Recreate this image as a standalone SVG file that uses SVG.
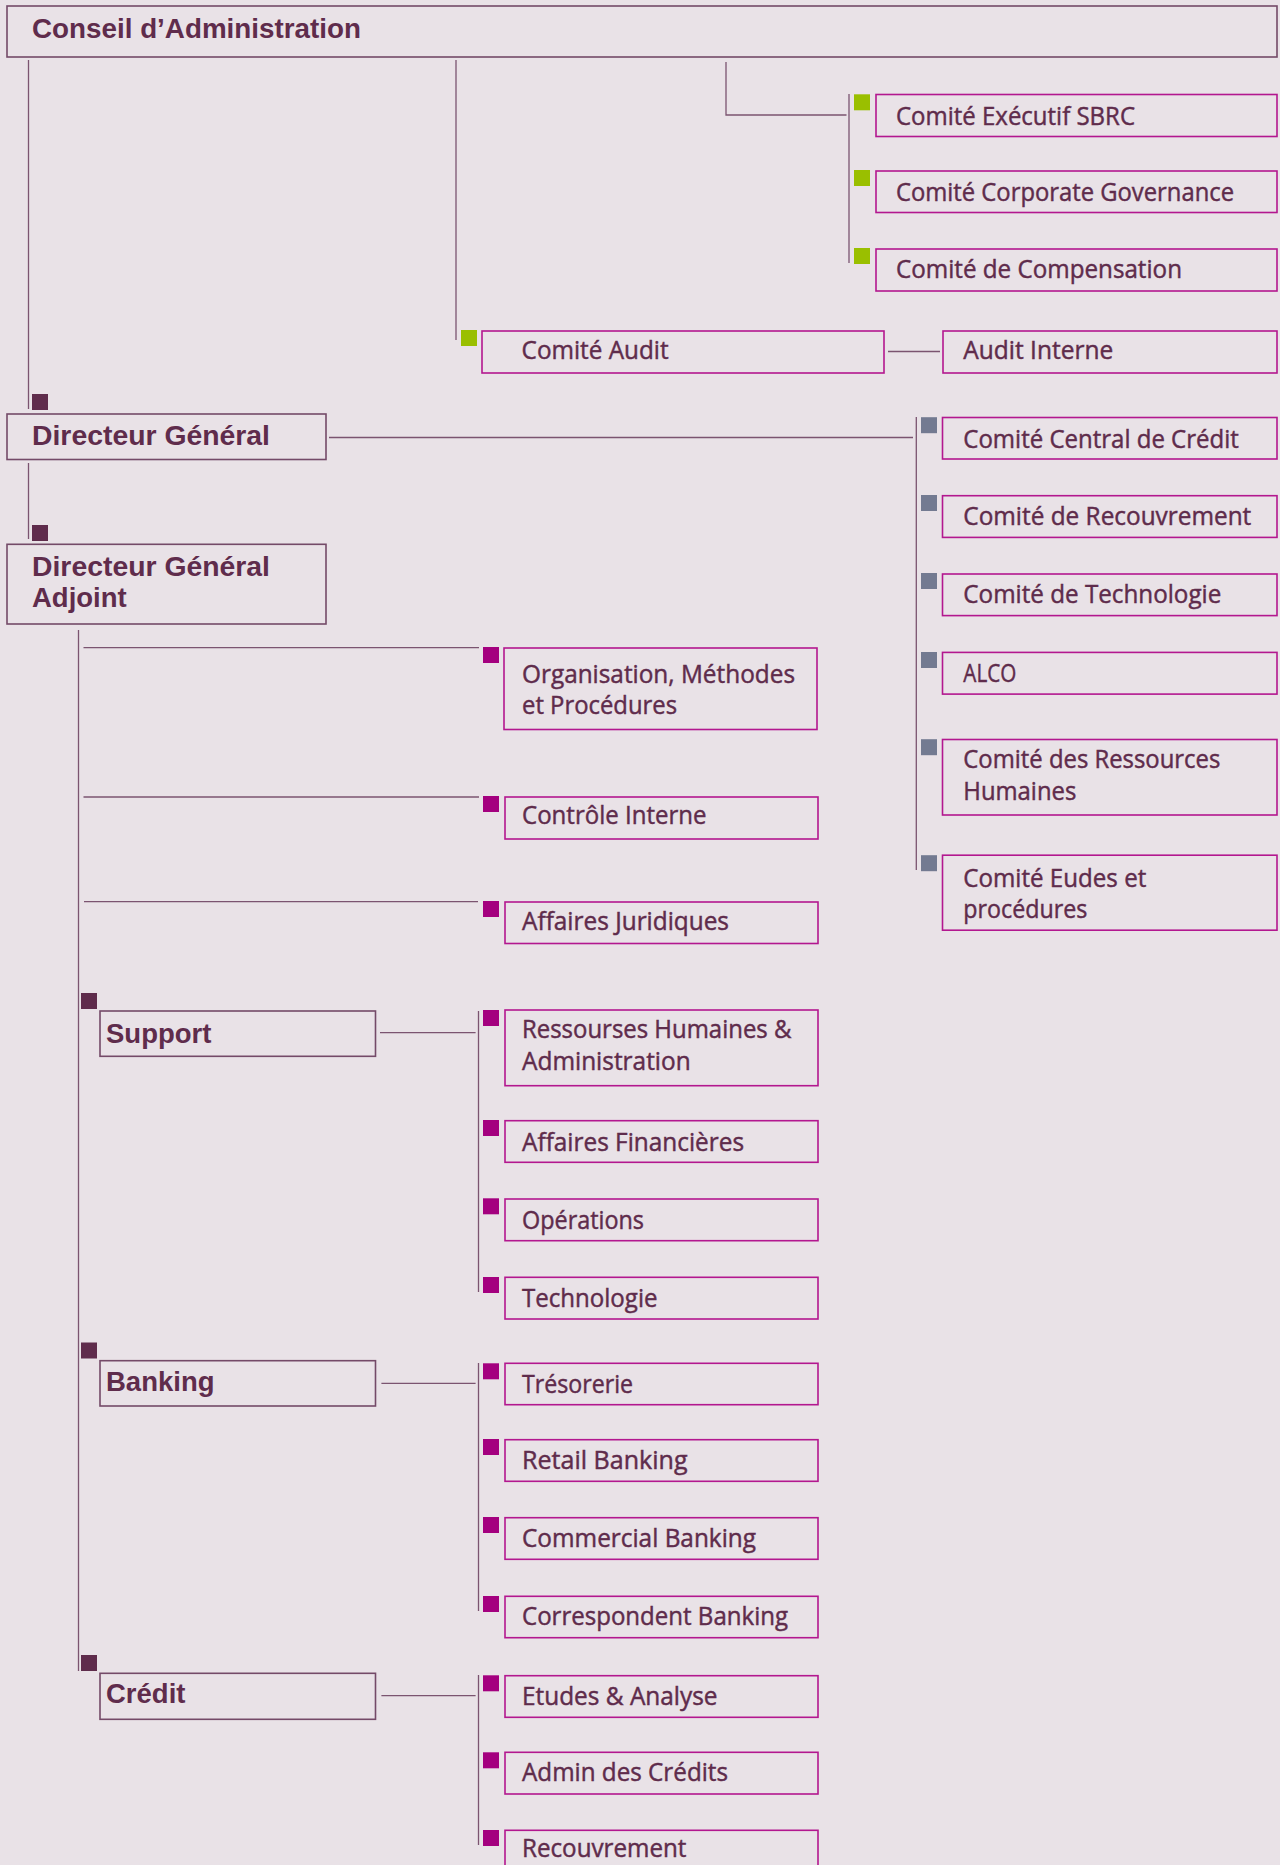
<svg xmlns="http://www.w3.org/2000/svg" width="1280" height="1865" viewBox="0 0 1280 1865">
<style>
.bg{fill:#e9e2e7}
.bm{fill:none;stroke:#744a68;stroke-width:1.6}
.bx{fill:none;stroke:#b3178f;stroke-width:1.6}
.ln{fill:none;stroke:#7b5470;stroke-width:1.3}
.t{font-family:"Open Sans","Noto Sans","Liberation Sans",sans-serif;font-size:25px;fill:#5f2c4c;stroke:#5f2c4c;stroke-width:0.45}
.tb{font-family:"Liberation Sans",Arial,sans-serif;font-weight:bold;font-size:27.5px;fill:#5f2c4c}
.sd{fill:#5f2c4c}
.sg{fill:#9abf00}
.sy{fill:#737a91}
.sm{fill:#a4007f}
</style>
<rect class="bg" x="0" y="0" width="1280" height="1865"/>

<g id="connectors">
<line class="ln" x1="28.5" y1="60" x2="28.5" y2="409"/>
<line class="ln" x1="456" y1="60" x2="456" y2="340"/>
<polyline class="ln" points="726,62 726,115 846.5,115"/>
<line class="ln" x1="849" y1="94" x2="849" y2="263"/>
<line class="ln" x1="888" y1="351.5" x2="940" y2="351.5"/>
<line class="ln" x1="329" y1="437.5" x2="913" y2="437.5"/>
<line class="ln" x1="916.3" y1="417" x2="916.3" y2="870"/>
<line class="ln" x1="28.5" y1="463" x2="28.5" y2="539"/>
<line class="ln" x1="78.5" y1="630" x2="78.5" y2="1671"/>
<line class="ln" x1="83.5" y1="647.7" x2="479" y2="647.7"/>
<line class="ln" x1="83.5" y1="797" x2="479" y2="797"/>
<line class="ln" x1="84" y1="901.7" x2="478" y2="901.7"/>
<line class="ln" x1="380" y1="1032.7" x2="475.6" y2="1032.7"/>
<line class="ln" x1="478.5" y1="1011" x2="478.5" y2="1292"/>
<line class="ln" x1="381.4" y1="1383.3" x2="475.6" y2="1383.3"/>
<line class="ln" x1="478.5" y1="1363" x2="478.5" y2="1611"/>
<line class="ln" x1="381.4" y1="1695.7" x2="475.6" y2="1695.7"/>
<line class="ln" x1="478.5" y1="1675" x2="478.5" y2="1845"/>
</g>

<g id="conseil">
<rect class="bm" x="7" y="6" width="1270" height="51"/>
<text class="tb" x="32" y="38" textLength="329" lengthAdjust="spacingAndGlyphs">Conseil d’Administration</text>
</g>

<g id="comite-executif">
<rect class="sg" x="854" y="94.3" width="16" height="16"/>
<rect class="bx" x="876" y="94.5" width="401" height="42"/>
<text class="t" x="896" y="124.5" textLength="239" lengthAdjust="spacingAndGlyphs">Comité Exécutif SBRC</text>
</g>
<g id="comite-corporate">
<rect class="sg" x="854" y="170" width="16" height="16"/>
<rect class="bx" x="876" y="171" width="401" height="41.5"/>
<text class="t" x="896" y="200.5" textLength="338" lengthAdjust="spacingAndGlyphs">Comité Corporate Governance</text>
</g>
<g id="comite-compensation">
<rect class="sg" x="854" y="248" width="16" height="16"/>
<rect class="bx" x="876" y="249" width="401" height="42"/>
<text class="t" x="896" y="278" textLength="286" lengthAdjust="spacingAndGlyphs">Comité de Compensation</text>
</g>

<g id="comite-audit">
<rect class="sg" x="461" y="330" width="16" height="16"/>
<rect class="bx" x="482" y="331" width="402" height="42"/>
<text class="t" x="521.6" y="359" textLength="147" lengthAdjust="spacingAndGlyphs">Comité Audit</text>
</g>
<g id="audit-interne">
<rect class="bx" x="943" y="331" width="334" height="42"/>
<text class="t" x="963.3" y="359" textLength="150" lengthAdjust="spacingAndGlyphs">Audit Interne</text>
</g>

<g id="directeur-general">
<rect class="sd" x="32" y="394" width="16" height="16"/>
<rect class="bm" x="7" y="414" width="319" height="45.5"/>
<text class="tb" x="32" y="445" textLength="238" lengthAdjust="spacingAndGlyphs">Directeur Général</text>
</g>
<g id="directeur-general-adjoint">
<rect class="sd" x="32" y="525" width="16" height="16"/>
<rect class="bm" x="7" y="544.3" width="319" height="79.7"/>
<text class="tb" x="32" y="575.5" textLength="238" lengthAdjust="spacingAndGlyphs">Directeur Général</text>
<text class="tb" x="32" y="607">Adjoint</text>
</g>

<g id="comite-central-credit">
<rect class="sy" x="921" y="417.2" width="16" height="16"/>
<rect class="bx" x="942.5" y="417.5" width="334.5" height="41.5"/>
<text class="t" x="963.3" y="447.5" textLength="275.5" lengthAdjust="spacingAndGlyphs">Comité Central de Crédit</text>
</g>
<g id="comite-recouvrement">
<rect class="sy" x="921" y="495" width="16" height="16"/>
<rect class="bx" x="942.5" y="495.7" width="334.5" height="41.7"/>
<text class="t" x="963.3" y="524.5" textLength="288" lengthAdjust="spacingAndGlyphs">Comité de Recouvrement</text>
</g>
<g id="comite-technologie">
<rect class="sy" x="921" y="573" width="16" height="16"/>
<rect class="bx" x="942.5" y="574" width="334.5" height="41.6"/>
<text class="t" x="963.3" y="602.5" textLength="258" lengthAdjust="spacingAndGlyphs">Comité de Technologie</text>
</g>
<g id="alco">
<rect class="sy" x="921" y="652" width="16" height="16"/>
<rect class="bx" x="942.5" y="652.4" width="334.5" height="41.7"/>
<text class="t" x="963.3" y="681.5" textLength="53" lengthAdjust="spacingAndGlyphs">ALCO</text>
</g>
<g id="comite-rh">
<rect class="sy" x="921" y="739.2" width="16" height="16"/>
<rect class="bx" x="942.5" y="739.5" width="334.5" height="75.5"/>
<text class="t" x="963.3" y="768" textLength="257" lengthAdjust="spacingAndGlyphs">Comité des Ressources</text>
<text class="t" x="963.3" y="799.5" textLength="113" lengthAdjust="spacingAndGlyphs">Humaines</text>
</g>
<g id="comite-eudes">
<rect class="sy" x="921" y="855.2" width="16" height="16"/>
<rect class="bx" x="942.5" y="855.2" width="334.5" height="75"/>
<text class="t" x="963.3" y="886.5" textLength="183" lengthAdjust="spacingAndGlyphs">Comité Eudes et</text>
<text class="t" x="963.3" y="918" textLength="124" lengthAdjust="spacingAndGlyphs">procédures</text>
</g>

<g id="organisation">
<rect class="sm" x="483" y="647" width="16" height="16"/>
<rect class="bx" x="504" y="648" width="313" height="81.5"/>
<text class="t" x="522" y="682.5" textLength="273" lengthAdjust="spacingAndGlyphs">Organisation, Méthodes</text>
<text class="t" x="522" y="714" textLength="155" lengthAdjust="spacingAndGlyphs">et Procédures</text>
</g>
<g id="controle-interne">
<rect class="sm" x="483" y="796" width="16" height="16"/>
<rect class="bx" x="505" y="797" width="313" height="42"/>
<text class="t" x="522" y="824" textLength="184.5" lengthAdjust="spacingAndGlyphs">Contrôle Interne</text>
</g>
<g id="affaires-juridiques">
<rect class="sm" x="483" y="901" width="16" height="16"/>
<rect class="bx" x="505" y="902" width="313" height="41.5"/>
<text class="t" x="522" y="930" textLength="207" lengthAdjust="spacingAndGlyphs">Affaires Juridiques</text>
</g>

<g id="support">
<rect class="sd" x="81" y="993" width="16" height="16"/>
<rect class="bm" x="100" y="1011" width="275.5" height="45.3"/>
<text class="tb" x="106" y="1042.5">Support</text>
</g>
<g id="ressources-humaines">
<rect class="sm" x="483" y="1010" width="16" height="16"/>
<rect class="bx" x="505" y="1010" width="313" height="75.7"/>
<text class="t" x="522" y="1038.3" textLength="269.4" lengthAdjust="spacingAndGlyphs">Ressourses Humaines &amp;</text>
<text class="t" x="522" y="1070" textLength="168.7" lengthAdjust="spacingAndGlyphs">Administration</text>
</g>
<g id="affaires-financieres">
<rect class="sm" x="483" y="1120" width="16" height="16"/>
<rect class="bx" x="505" y="1120.7" width="313" height="41.6"/>
<text class="t" x="522" y="1150.5" textLength="222" lengthAdjust="spacingAndGlyphs">Affaires Financières</text>
</g>
<g id="operations">
<rect class="sm" x="483" y="1198.3" width="16" height="16"/>
<rect class="bx" x="505" y="1199" width="313" height="41.7"/>
<text class="t" x="522" y="1228.5" textLength="122" lengthAdjust="spacingAndGlyphs">Opérations</text>
</g>
<g id="technologie">
<rect class="sm" x="483" y="1277" width="16" height="16"/>
<rect class="bx" x="505" y="1277.3" width="313" height="41.7"/>
<text class="t" x="522" y="1306.5" textLength="135.5" lengthAdjust="spacingAndGlyphs">Technologie</text>
</g>

<g id="banking">
<rect class="sd" x="81" y="1342.5" width="16" height="16"/>
<rect class="bm" x="100" y="1360.7" width="275.5" height="45.3"/>
<text class="tb" x="106" y="1390.7">Banking</text>
</g>
<g id="tresorerie">
<rect class="sm" x="483" y="1363.3" width="16" height="16"/>
<rect class="bx" x="505" y="1363.3" width="313" height="41.4"/>
<text class="t" x="522" y="1392.5" textLength="111" lengthAdjust="spacingAndGlyphs">Trésorerie</text>
</g>
<g id="retail-banking">
<rect class="sm" x="483" y="1439" width="16" height="16"/>
<rect class="bx" x="505" y="1439.7" width="313" height="41.6"/>
<text class="t" x="522" y="1469" textLength="165.5" lengthAdjust="spacingAndGlyphs">Retail Banking</text>
</g>
<g id="commercial-banking">
<rect class="sm" x="483" y="1517" width="16" height="16"/>
<rect class="bx" x="505" y="1517.7" width="313" height="41.6"/>
<text class="t" x="522" y="1546.5" textLength="234" lengthAdjust="spacingAndGlyphs">Commercial Banking</text>
</g>
<g id="correspondent-banking">
<rect class="sm" x="483" y="1596" width="16" height="16"/>
<rect class="bx" x="505" y="1596.3" width="313" height="41.4"/>
<text class="t" x="522" y="1625" textLength="266" lengthAdjust="spacingAndGlyphs">Correspondent Banking</text>
</g>

<g id="credit">
<rect class="sd" x="81" y="1655" width="16" height="16"/>
<rect class="bm" x="100" y="1673.3" width="275.5" height="46"/>
<text class="tb" x="106" y="1702.7">Crédit</text>
</g>
<g id="etudes-analyse">
<rect class="sm" x="483" y="1675.3" width="16" height="16"/>
<rect class="bx" x="505" y="1675.7" width="313" height="41.6"/>
<text class="t" x="522" y="1704.5" textLength="195.5" lengthAdjust="spacingAndGlyphs">Etudes &amp; Analyse</text>
</g>
<g id="admin-credits">
<rect class="sm" x="483" y="1752.3" width="16" height="16"/>
<rect class="bx" x="505" y="1752.3" width="313" height="41.7"/>
<text class="t" x="522" y="1781" textLength="206" lengthAdjust="spacingAndGlyphs">Admin des Crédits</text>
</g>
<g id="recouvrement">
<rect class="sm" x="483" y="1830" width="16" height="16"/>
<rect class="bx" x="505" y="1830.3" width="313" height="50"/>
<text class="t" x="522" y="1857" textLength="164.5" lengthAdjust="spacingAndGlyphs">Recouvrement</text>
</g>
</svg>
